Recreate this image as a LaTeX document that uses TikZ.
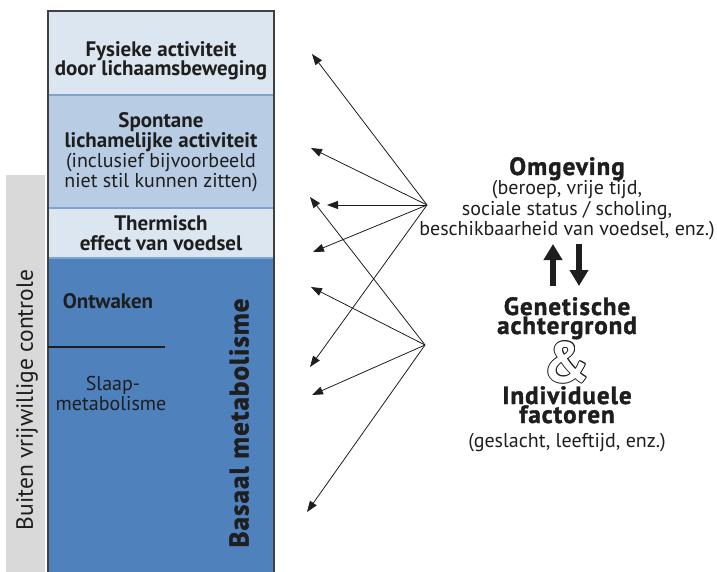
\documentclass[tikz,border=0pt]{standalone}
\usepackage{fontspec}
\setmainfont{PT Sans}
\newfontfamily\heavyfont{PT Sans}[BoldFeatures={FakeBold=1.6}, LetterSpace=4]
\usetikzlibrary{arrows.meta}
\definecolor{lightsec}{HTML}{DCE6F1}
\definecolor{midsec}{HTML}{B8CCE4}
\definecolor{basal}{HTML}{4F81BD}
\definecolor{greybar}{HTML}{D9D9D9}
\definecolor{sepline}{HTML}{7FA3CF}
\definecolor{ink}{HTML}{1E1E1E}
\newcommand\outlinedglyph[1]{\leavevmode
  \rlap{\kern-1pt\textcolor{ink}{#1}}\rlap{\kern1pt\textcolor{ink}{#1}}%
  \rlap{\raisebox{1pt}{\textcolor{ink}{#1}}}\rlap{\raisebox{-1pt}{\textcolor{ink}{#1}}}%
  \rlap{\kern-0.7pt\raisebox{0.7pt}{\textcolor{ink}{#1}}}\rlap{\kern0.7pt\raisebox{0.7pt}{\textcolor{ink}{#1}}}%
  \rlap{\kern-0.7pt\raisebox{-0.7pt}{\textcolor{ink}{#1}}}\rlap{\kern0.7pt\raisebox{-0.7pt}{\textcolor{ink}{#1}}}%
  \textcolor{white}{#1}}
\tikzset{
  boldtxt/.style={font=\fontsize{21}{21}\selectfont\bfseries, text=ink, anchor=base, inner sep=0pt},
  regtxt/.style={font=\fontsize{20}{20}\selectfont, text=ink, anchor=base, inner sep=0pt},
  heavytxt/.style={font=\fontsize{25}{25}\heavyfont\bfseries, text=ink, anchor=base, inner sep=0pt},
  ray/.style={draw=ink, line width=0.8pt, -{Triangle[length=11pt,width=8pt]}},
  fatarrow/.style={draw=ink, line width=6pt, -{Triangle[length=16pt,width=18pt]}},
  sep/.style={draw=sepline, line width=1.2pt},
}
\begin{document}
\begin{tikzpicture}[x=1pt,y=-1pt]
\useasboundingbox (0,0) rectangle (717,572);
% grey bar
\fill[greybar] (6,175) rectangle (45,572);
% column sections
\fill[lightsec] (48,11) rectangle (274,95);
\fill[midsec] (48,95) rectangle (274,208);
\fill[lightsec] (48,208) rectangle (274,258);
\fill[basal] (48,258) rectangle (274,572);
\draw[sep] (48,95) -- (274,95);
\draw[sep] (48,208) -- (274,208);
\draw[sep] (48,258) -- (274,258);
\draw[draw=ink!85, line width=1.6pt] (48,572) -- (48,11) -- (274,11) -- (274,572);
\draw[ink, line width=1.5pt] (48,347) -- (165,347);
% texts in column
\node[boldtxt] (fys1) at (161,57) {Fysieke activiteit};
\node[boldtxt] (fys2) at (161,76) {door lichaamsbeweging};
\node[boldtxt] (spon1) at (161,128) {Spontane};
\node[boldtxt] (spon2) at (161,148) {lichamelijke activiteit};
\node[regtxt] (spon3) at (161,168) {(inclusief bijvoorbeeld};
\node[regtxt] (spon4) at (161,188) {niet stil kunnen zitten)};
\node[boldtxt] (therm1) at (161,230) {Thermisch};
\node[boldtxt] (therm2) at (161,250) {effect van voedsel};
\node[boldtxt] (ontw) at (108,308) {Ontwaken};
\node[regtxt] (slaap1) at (113,390) {Slaap-};
\node[regtxt] (slaap2) at (111,410) {metabolisme};
\node[heavytxt, anchor=center, font=\fontsize{27}{27}\heavyfont\bfseries, rotate=90] (basaal) at (239,423) {Basaal metabolisme};
\node[regtxt, anchor=center, font=\fontsize{23.5}{24}\selectfont, rotate=90] (buiten) at (27,400) {Buiten vrijwillige controle};
% right texts
\node[heavytxt] (omg) at (567,175) {Omgeving};
\node[regtxt] (omg1) at (567,195) {(beroep, vrije tijd,};
\node[regtxt] (omg2) at (567,215) {sociale status / scholing,};
\node[regtxt] (omg3) at (567,235) {beschikbaarheid van voedsel, enz.)};
\node[heavytxt] (gen1) at (567,315) {Genetische};
\node[heavytxt] (gen2) at (567,334) {achtergrond};
\node[anchor=base, inner sep=0pt, font=\fontsize{57}{57}\selectfont\bfseries] (amp) at (567,382) {\outlinedglyph{\&}};
\node[heavytxt] (ind1) at (567,404) {Individuele};
\node[heavytxt] (ind2) at (567,423) {factoren};
\node[regtxt] (gesl) at (567,447) {(geslacht, leeftijd, enz.)};
% fat arrows
\coordinate (upS) at (553,286); \coordinate (upE) at (553,244);
\coordinate (dnS) at (579,244); \coordinate (dnE) at (579,286);
\draw[fatarrow] (upS) -- (upE);
\draw[fatarrow] (dnS) -- (dnE);
% rays
\coordinate (P1) at (427,205);
\coordinate (P2) at (425,345);
\coordinate (t1) at (312,54);
\coordinate (t2) at (311,148);
\coordinate (t3) at (327,205);
\coordinate (t4) at (313,252);
\coordinate (t5) at (310,367);
\coordinate (u1) at (310,197);
\coordinate (u2) at (311,287);
\coordinate (u3) at (312,395);
\coordinate (u4) at (307,512);
\foreach \t in {t1,t2,t3,t4,t5} \draw[ray] (P1) -- (\t);
\foreach \t in {u1,u2,u3,u4} \draw[ray] (P2) -- (\t);
\end{tikzpicture}
\end{document}
